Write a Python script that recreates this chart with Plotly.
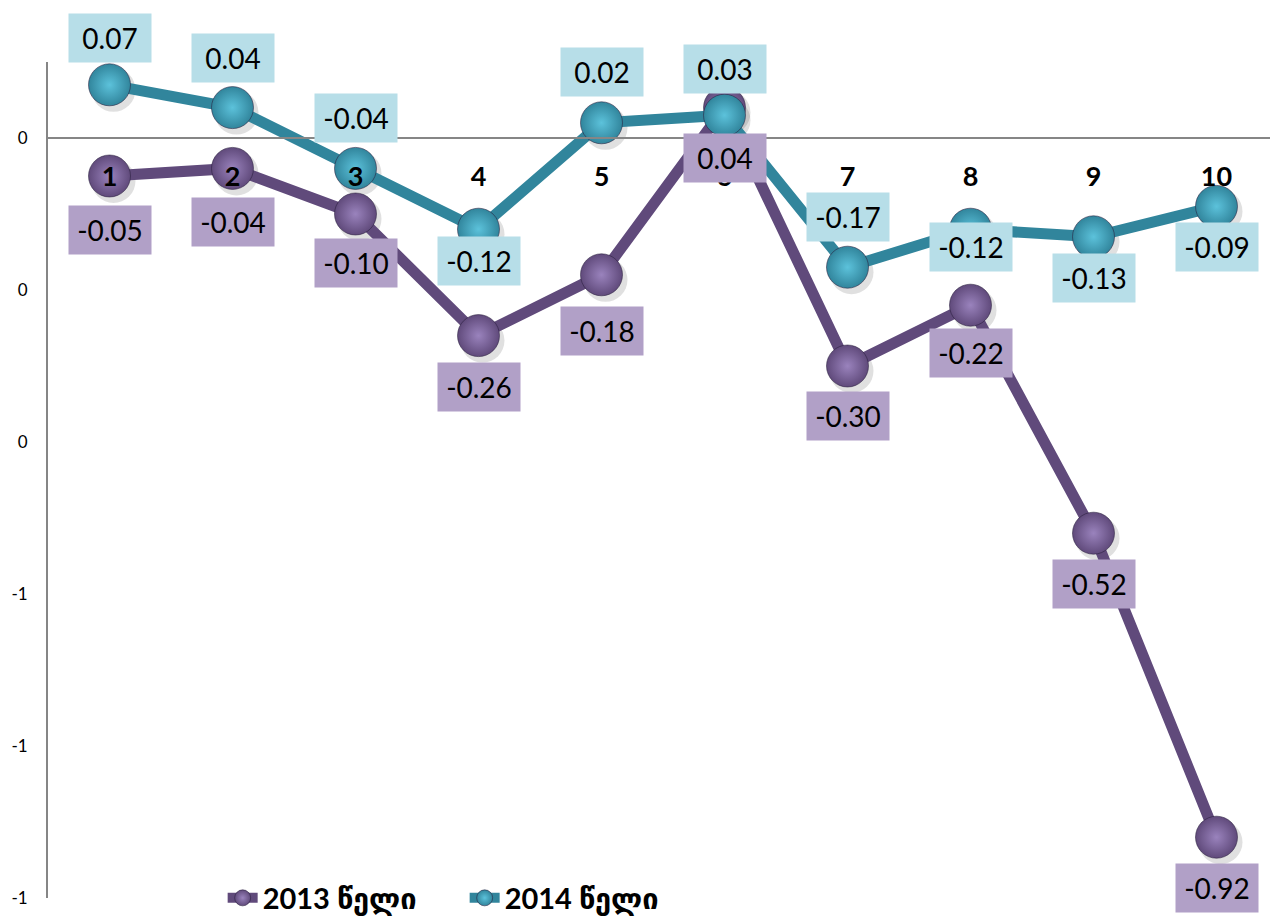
import plotly.graph_objects as go

# categories and values
categories = ["1", "2", "3", "4", "5", "6", "7", "8", "9", "10"]
values_2013 = [-0.05, -0.04, -0.10, -0.26, -0.18, 0.04, -0.30, -0.22, -0.52, -0.92]
values_2014 = [0.07, 0.04, -0.04, -0.12, 0.02, 0.03, -0.17, -0.12, -0.13, -0.09]
series_names = ["2013 წელი", "2014 წელი"]

y_tick_vals = [0, -0.2, -0.4, -0.6, -0.8, -1.0]
y_tick_text = ["0", "0", "0", "-1", "-1", "-1"]

# label shifts in px (how the labels were placed by hand in the original)
shift_2013 = [-54, -54, -49, -51, -56, -50, -50, -48, -51, -51]
shift_2014 = [47, 50, 50, -32, 51, 46, 50, -18, -41, -41]

PURPLE = "#604a7b"
PURPLE_LIGHT = "#9a83bd"
PURPLE_BG = "#b1a0c7"
TEAL = "#31859c"
TEAL_LIGHT = "#5cc2db"
TEAL_BG = "#b7dee8"
AXIS = "#868686"

Y_RANGE = [-1.0, 0.1]
PLOT_W, PLOT_H = 1230, 836
# shadow offset (px) -> data units on the hidden axes
dx = 4 / (PLOT_W / len(categories))
dy = 5 / (PLOT_H / (Y_RANGE[1] - Y_RANGE[0]))


def main():
    fig = go.Figure()

    # soft shadows under the markers, drawn on shifted hidden axes
    for vals in (values_2013, values_2014):
        fig.add_trace(go.Scatter(
            x=categories, y=vals, mode="markers", xaxis="x", yaxis="y",
            marker=dict(size=44, color="rgba(0,0,0,0.12)", line=dict(width=0)),
            showlegend=False, hoverinfo="skip",
        ))

    for name, vals, col, light in ((series_names[0], values_2013, PURPLE, PURPLE_LIGHT),
                                   (series_names[1], values_2014, TEAL, TEAL_LIGHT)):
        fig.add_trace(go.Scatter(
            x=categories, y=vals, name=name, mode="lines+markers",
            xaxis="x2", yaxis="y2",
            line=dict(color=col, width=11),
            marker=dict(size=42, color=col,
                        gradient=dict(type="radial", color=light),
                        line=dict(color="rgba(40,30,60,0.55)", width=1)),
        ))

    for vals, shifts, bg in ((values_2013, shift_2013, PURPLE_BG),
                             (values_2014, shift_2014, TEAL_BG)):
        for i, (v, s) in enumerate(zip(vals, shifts)):
            fig.add_annotation(
                x=i, y=v, xref="x2", yref="y2", text=f"{v:.2f}",
                showarrow=False, yshift=s, bgcolor=bg,
                width=72, height=38, borderpad=5,
                font=dict(family="Lato, Calibri, sans-serif", size=28, color="black"),
            )

    fig.update_layout(
        width=1270, height=915,
        margin=dict(l=40, r=0, t=54, b=25, autoexpand=False),
        paper_bgcolor="white", plot_bgcolor="white",
        xaxis=dict(type="category", visible=False,
                   range=[-0.5 - dx, len(categories) - 0.5 - dx]),
        yaxis=dict(visible=False, range=[Y_RANGE[0] + dy, Y_RANGE[1] + dy]),
        xaxis2=dict(type="category", overlaying="x", anchor="free",
                    position=(0 - Y_RANGE[0]) / (Y_RANGE[1] - Y_RANGE[0]),
                    range=[-0.5, len(categories) - 0.5],
                    showline=True, linecolor=AXIS, linewidth=2,
                    showgrid=False, zeroline=False, ticks="",
                    ticklabelstandoff=15,
                    tickfont=dict(family="Lato, Calibri, sans-serif", size=27,
                                  color="black", weight="bold")),
        yaxis2=dict(overlaying="y", range=Y_RANGE, showline=True,
                    linecolor=AXIS, linewidth=2, showgrid=False, zeroline=False,
                    tickvals=y_tick_vals, ticktext=y_tick_text, ticks="",
                    ticklabelstandoff=15,
                    tickfont=dict(family="Lato, Calibri, sans-serif", size=17,
                                  color="black")),
        legend=dict(orientation="h", x=0.142, y=0, xanchor="left", yanchor="middle",
                    bgcolor="rgba(0,0,0,0)", entrywidth=197, entrywidthmode="pixels",
                    font=dict(family="Lato, DejaVu Sans, sans-serif", size=29,
                              color="black", weight="bold")),
        showlegend=True,
    )

    fig.write_html("out.html")


if __name__ == "__main__":
    main()
